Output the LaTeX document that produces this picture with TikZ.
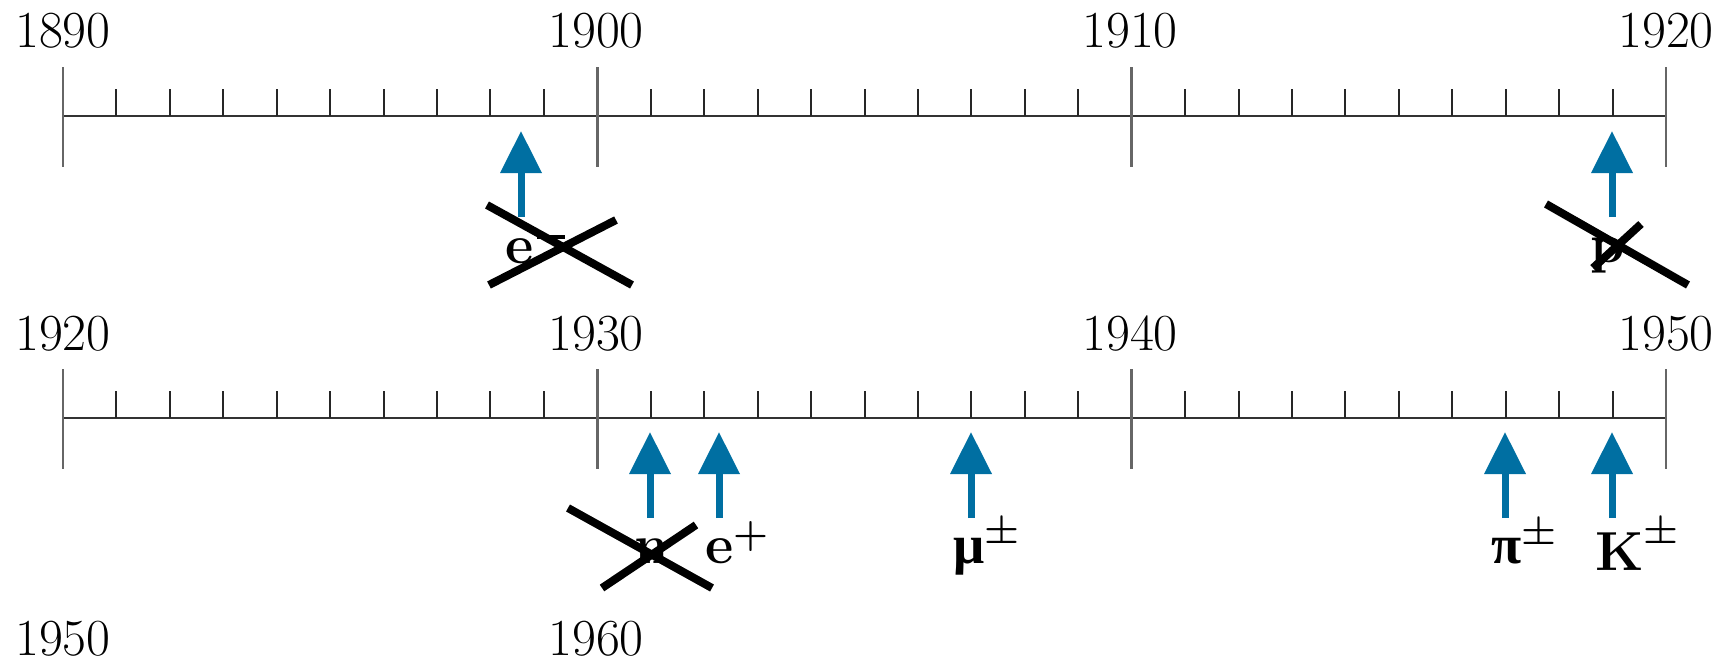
\documentclass[tikz,border=0pt]{standalone}
\usepackage{fontspec}
\newfontfamily\grk{Liberation Serif}
\usetikzlibrary{arrows.meta}
\definecolor{arrowblue}{RGB}{0,111,162}
\newcommand\supr[2]{\raisebox{#1}{\fontsize{40}{42}\selectfont #2}}
\begin{document}
\begin{tikzpicture}[x=1pt,y=-1pt,
  axisline/.style={line width=2.4pt, draw=black!80},
  majortick/.style={line width=2.4pt, draw=black!60},
  minortick/.style={line width=2pt, draw=black!85},
  yearlabel/.style={font=\fontsize{52}{60}\selectfont, inner sep=0pt, anchor=base},
  discovery/.style={line width=7pt, draw=arrowblue, -{Triangle[width=40pt,length=42pt]}},
  crossout/.style={line width=8pt, draw=black},
  particle/.style={font=\fontsize{55}{60}\selectfont\bfseries, inner sep=0pt, anchor=base west}
]
\useasboundingbox (0,0) rectangle (1735,664);

% axes with ticks
\foreach \row/\ay in {1/116, 2/418} {
  \coordinate (axis\row start) at (63,\ay);
  \coordinate (axis\row end) at (1666,\ay);
  \draw[axisline] (axis\row start) -- (axis\row end);
  \foreach \i in {0,...,30} {
    \pgfmathsetmacro\xx{63+\i*53.433}
    \pgfmathtruncatemacro\m{mod(\i,10)}
    \ifnum\m=0
      \draw[majortick] (\xx,\ay-49) -- (\xx,\ay+51);
    \else
      \draw[minortick] (\xx,\ay-27) -- (\xx,\ay);
    \fi
  }
}

% year labels
\node[yearlabel] (y1890) at (63,47) {1890};
\node[yearlabel] (y1900) at (596,47) {1900};
\node[yearlabel] (y1910) at (1130,47) {1910};
\node[yearlabel] (y1920a) at (1666,47) {1920};
\node[yearlabel] (y1920b) at (63,350) {1920};
\node[yearlabel] (y1930) at (596,350) {1930};
\node[yearlabel] (y1940) at (1130,350) {1940};
\node[yearlabel] (y1950a) at (1666,350) {1950};
\node[yearlabel] (y1950b) at (63,655) {1950};
\node[yearlabel] (y1960) at (596,655) {1960};

% particle labels
\node[particle] (pe-) at (505,263) {e\hspace{4pt}\rule[24pt]{28pt}{4pt}};
\node[particle] (pp) at (1590,262) {p};
\node[particle] (pn) at (634,563) {n};
\node[particle] (pe+) at (705,563) {e\supr{17pt}{+}};
\node[particle] (pmu) at (953,563) {{\grk μ}\supr{20pt}{±}};
\node[particle] (ppi) at (1491,563) {{\grk π}\supr{19pt}{±}};
\node[particle] (pK) at (1595,570) {K\supr{27pt}{±}};

% arrows
\foreach \n/\x/\tl/\tp in {a1/521/217/131, a2/1612/217/131,
  b1/650/518/432, b2/719/518/432, b3/971/518/432, b4/1505/518/432, b5/1612/518/432} {
  \coordinate (\n tail) at (\x,\tl);
  \coordinate (\n tip) at (\x,\tp);
  \draw[discovery] (\n tail) -- (\n tip);
}

% crosses
\draw[crossout] (487,205) -- (632,285);
\draw[crossout] (489,285) -- (616,220);
\draw[crossout] (1546,204) -- (1688,285);
\draw[crossout] (1593,268) -- (1641,224);
\draw[crossout] (568,508) -- (712,588);
\draw[crossout] (602,588) -- (696,525);
\end{tikzpicture}
\end{document}
